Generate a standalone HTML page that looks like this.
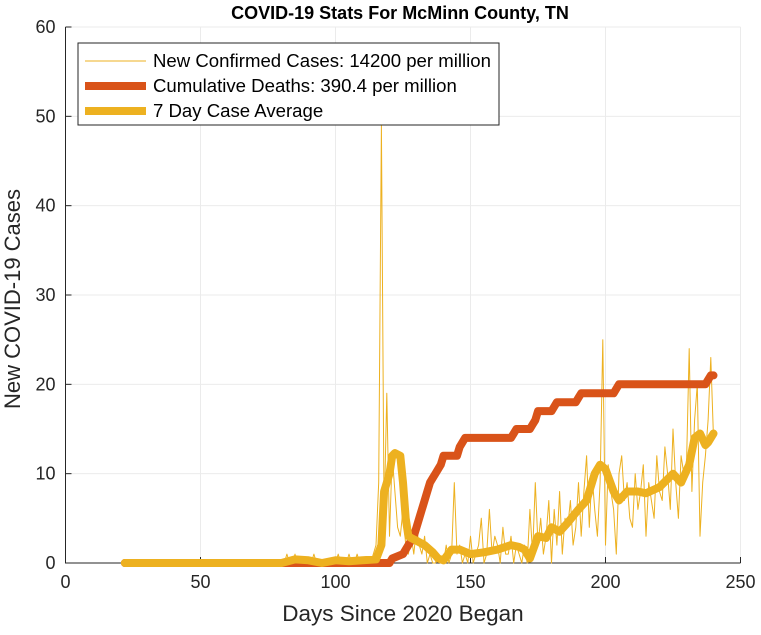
<!DOCTYPE html>
<html><head><meta charset="utf-8"><style>
body{margin:0;background:#fff;font-family:"Liberation Sans",Arial,sans-serif}
svg text{font-family:"Liberation Sans",Arial,sans-serif}
</style></head><body>
<svg id="c" width="761" height="630"></svg>
<script>
const xTicks=[0,50,100,150,200,250];
const yTicks=[0,10,20,30,40,50,60];
const dailyStart=80;
const daily=[0,0,1,0,0,1,0,0,0,0, 0,0,1,0,0,0,0,0,0,0, 0,1,0,0,0,1,0,0,1,0, 0,0,0,0,1,2,9,49,5,19,
3,12,8,4,3,6,2,1,3,1, 4,2,1,3,0,1,0,0,1,0, 0,2,0,1,9,1,2,0,1,0, 3,0,1,2,5,0,1,6,1,3,
2,0,4,1,1,3,0,2,1,0, 2,0,6,1,9,2,5,1,3,7, 0,6,2,8,1,5,4,7,2,4, 9,3,8,12,4,10,6,3,9,25,
2,11,8,6,1,10,12,7,9,5, 4,10,6,8,11,3,9,7,5,12, 8,7,13,10,6,15,9,5,12,10, 11,24,8,16,20,3,9,12,16,23,14];
const deathDays=[22,120,121,125,126,127,128,129,130,131,132,133,134,135,136,137,138,139,140,145,146,147,148,165,166,167,172,173,174,175,180,181,182,189,190,191,203,204,205,237,238,239,240];
const deathVals=[0,0,0.5,1,1.5,2,2.5,3,4,5,6,7,8,9,9.5,10,10.5,11,12,12,13,13.5,14,14,14.5,15,15,15.5,16,17,17,17.5,18,18,18.5,19,19,19.5,20,20,20.5,21,21];
const avgDays=[22,80,85,90,95,100,105,110,115,117,118,119,120,121,122,124,125,126,127,128,130,133,136,138,140,143,146,150,155,160,165,168,170,172,175,178,180,183,186,190,193,196,198,200,203,205,208,212,215,220,225,228,231,233,235,237,238,240];
const avgVals=[0,0,0.4,0.3,0,0.3,0.2,0.3,0.4,2,8,9,10,12,12.3,12,9,5,3,2.8,2.5,2,1.2,0.5,0.3,1.5,1.5,1,1.2,1.5,2,1.8,1.5,0.5,3,2.8,4,3.5,4.5,6,7,10,11,10.5,8,7,8,8,7.8,8.5,10,9,11,14,14.5,13.2,13.5,14.5];
const L=65.5,R=740.5,T=27,B=563;
const sx=d=>L+(d-0)/250*(R-L), sy=v=>B-v/60*(B-T);
const svg=document.getElementById('c');const NS='http://www.w3.org/2000/svg';
function mk(t,a,txt){const e=document.createElementNS(NS,t);for(const k in a)e.setAttribute(k,a[k]);if(txt!==undefined)e.textContent=txt;svg.appendChild(e);return e;}
let e;
for(const t of xTicks){e=mk('line',{x1:sx(t),x2:sx(t),y1:T,y2:B,stroke:'#ebebeb'});


e=mk('line',{x1:sx(t),x2:sx(t),y1:B,y2:B-6,stroke:'#262626'});


e=mk('text',{x:sx(t),y:B+25,'text-anchor':'middle','font-size':18,fill:'#262626'},t);

}
for(const t of yTicks){e=mk('line',{x1:L,x2:R,y1:sy(t),y2:sy(t),stroke:'#ebebeb'});


e=mk('line',{x1:L,x2:L+6,y1:sy(t),y2:sy(t),stroke:'#262626'});


e=mk('text',{x:L-10,y:sy(t)+6,'text-anchor':'end','font-size':18,fill:'#262626'},t);

}
e=mk('path',{d:`M${L},${T}V${B}H${R}`,fill:'none',stroke:'#262626','stroke-width':1});


function pl(xs,ys,col,w,name){const p=xs.map((x,i)=>sx(x).toFixed(1)+','+sy(ys[i]).toFixed(1)).join(' ');
const el=mk('polyline',{points:p,fill:'none',stroke:col,'stroke-width':w,'stroke-linejoin':'round','stroke-linecap':'round'});

}
const dd=daily.map((v,i)=>dailyStart+i);
pl(dd,daily,'#EDB120',1,'new-cases-line');
pl(deathDays,deathVals,'#D95319',8,'cumulative-deaths-line');
pl(avgDays,avgVals,'#EDB120',8,'case-average-line');
e=mk('text',{x:400,y:19,'text-anchor':'middle','font-size':18,'font-weight':'bold',fill:'#000'},'COVID-19 Stats For McMinn County, TN');


e=mk('text',{x:403,y:621,'text-anchor':'middle','font-size':22.5,fill:'#262626'},'Days Since 2020 Began');


e=mk('text',{x:0,y:0,'text-anchor':'middle','font-size':22,fill:'#262626',transform:'translate(20,299) rotate(-90)'},'New COVID-19 Cases');


e=mk('rect',{x:78,y:43,width:421,height:82,fill:'#fff',stroke:'#262626','stroke-width':1});


const legs=[['New Confirmed Cases: 14200 per million','#EDB120',1],['Cumulative Deaths: 390.4 per million','#D95319',8],['7 Day Case Average','#EDB120',8]];
legs.forEach((l,i)=>{const y=61+i*25;
e=mk('line',{x1:85,x2:146,y1:y,y2:y,stroke:l[1],'stroke-width':l[2]});


e=mk('text',{x:153,y:y+6,'font-size':18.6,fill:'#000'},l[0]);

});
</script>
</body></html>
